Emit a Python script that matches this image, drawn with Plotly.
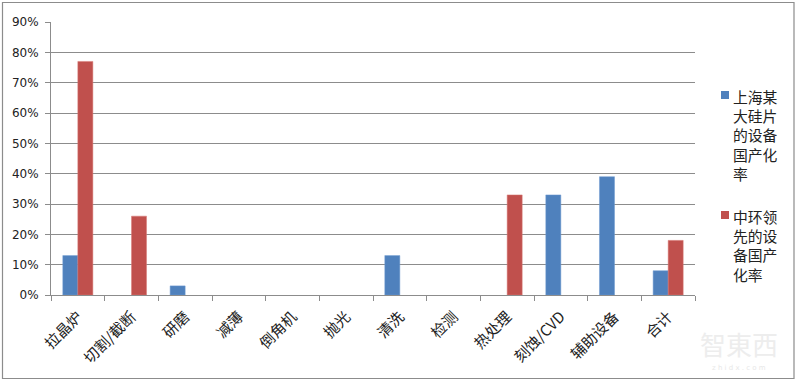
import plotly.graph_objects as go

categories = ["拉晶炉", "切割/截断", "研磨", "减薄", "倒角机", "抛光", "清洗", "检测", "热处理", "刻蚀/CVD", "辅助设备", "合计"]
shanghai = [0.13, None, 0.03, None, None, None, 0.13, None, None, 0.33, 0.39, 0.08]
zhonghuan = [0.77, 0.26, None, None, None, None, None, None, 0.33, None, None, 0.18]
name_shanghai = "上海某<br>大硅片<br>的设备<br>国产化<br>率"
name_zhonghuan = "中环领<br>先的设<br>备国产<br>化率"
y_ticks = [0, 0.1, 0.2, 0.3, 0.4, 0.5, 0.6, 0.7, 0.8, 0.9]

W, H = 800, 382
L, R, T, B = 51, 105, 22, 87
pw, ph = W - L - R, H - T - B

BLUE, RED = "#4F81BD", "#C0504D"

fig = go.Figure()
fig.add_trace(go.Bar(x=categories, y=shanghai, name=name_shanghai, marker_color=BLUE,
                     marker_line=dict(color="#6f9bd0", width=0.5)))
fig.add_trace(go.Bar(x=categories, y=zhonghuan, name=name_zhonghuan, marker_color=RED,
                     marker_line=dict(color="#d97a77", width=0.5)))


def px_x(p):
    return (p - L) / pw


def px_y(p):
    return (H - B - p) / ph


# outer chart border
fig.add_shape(type="rect", xref="paper", yref="paper",
              x0=px_x(2.5), x1=px_x(794), y0=px_y(2.5), y1=px_y(378.5),
              line=dict(color="#8c8c8c", width=1.2), layer="below")

# custom legend (built from trace names / colours)
legend_items = [(name_shanghai, BLUE, 95), (name_zhonghuan, RED, 215)]
for name, col, yc in legend_items:
    fig.add_shape(type="rect", xref="paper", yref="paper",
                  x0=px_x(721), x1=px_x(729), y0=px_y(yc + 4), y1=px_y(yc - 4),
                  line=dict(width=0), fillcolor=col)
    fig.add_annotation(text=name, xref="paper", yref="paper",
                       x=px_x(732), y=px_y(yc - 10.5), xanchor="left", yanchor="top",
                       align="left", showarrow=False, borderpad=0,
                       font=dict(size=14.8, family="Noto Sans CJK SC", color="#222"))

# faint watermark
fig.add_annotation(text="智東西", xref="paper", yref="paper", x=px_x(739), y=px_y(343),
                   xanchor="center", yanchor="middle",
                   showarrow=False, font=dict(size=26, color="#ededed", family="Noto Sans CJK SC"))
fig.add_annotation(text="z h i d x . c o m", xref="paper", yref="paper", x=px_x(739), y=px_y(368),
                   xanchor="center", yanchor="middle",
                   showarrow=False, font=dict(size=7, color="#e8e8e8", family="DejaVu Sans"))

fig.update_layout(
    width=W, height=H,
    margin=dict(l=L, r=R, t=T, b=B),
    paper_bgcolor="white", plot_bgcolor="white",
    barmode="group", bargap=0.44, bargroupgap=0,
    font=dict(family="Noto Sans CJK SC", color="#222"),
    showlegend=False,
)
fig.update_xaxes(type="category", tickangle=-45, tickson="boundaries",
                 ticks="outside", ticklen=5, tickcolor="#8c8c8c",
                 showline=True, linecolor="#8c8c8c", linewidth=1,
                 ticklabelstandoff=6,
                 tickfont=dict(size=15, family="Noto Sans CJK SC", color="#222"),
                 showgrid=False)
fig.update_yaxes(range=[0, 0.9], tickvals=y_ticks, tickformat=".0%",
                 ticks="outside", ticklen=5, tickcolor="#8c8c8c",
                 showline=True, linecolor="#8c8c8c", linewidth=1,
                 showgrid=True, gridcolor="#8c8c8c", gridwidth=1,
                 ticklabelstandoff=4,
                 tickfont=dict(size=12, family="DejaVu Sans", color="#222"),
                 zeroline=False)

fig.write_html("out.html")
